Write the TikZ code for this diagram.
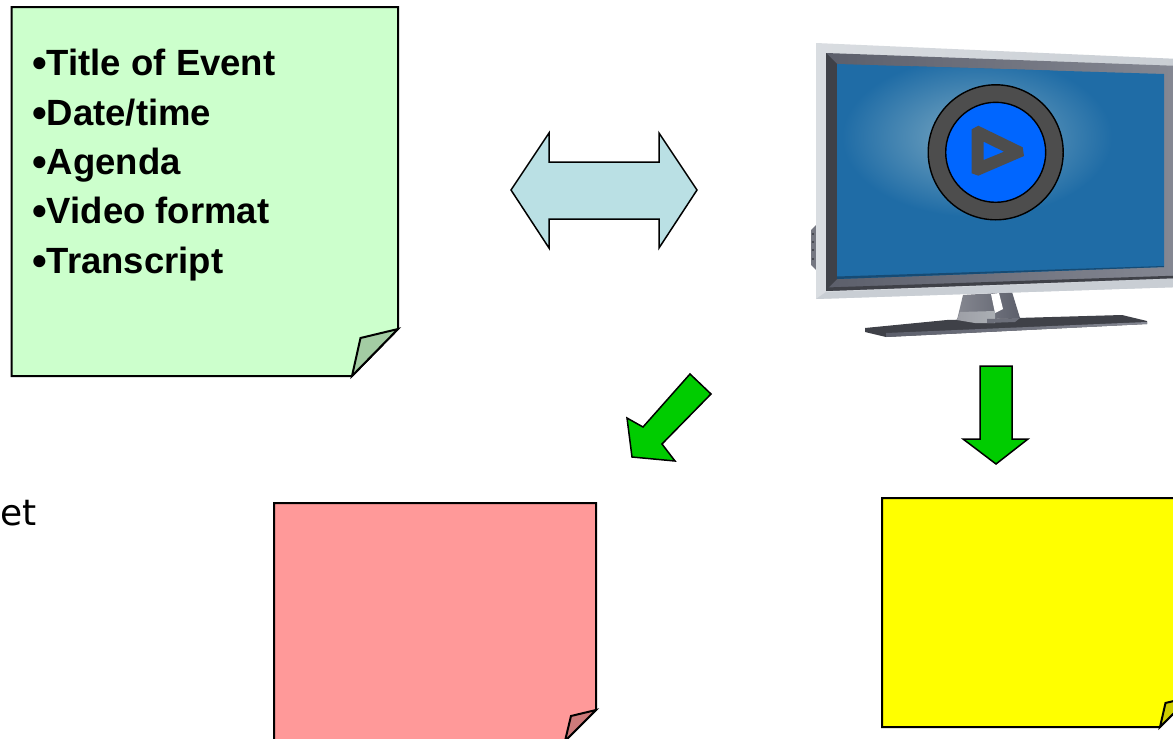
\documentclass[tikz,border=0pt]{standalone}
\usepackage{fontspec}
\setmainfont{Liberation Sans}
\newfontfamily\etfont{DejaVu Sans}
\newcommand{\bigbul}{\raisebox{-2pt}{\fontsize{42}{42}\selectfont •}}
\definecolor{notegreen}{HTML}{CCFFCC}
\definecolor{foldgreen}{HTML}{A3CCA3}
\definecolor{notered}{HTML}{FF9999}
\definecolor{foldred}{HTML}{CC7A7A}
\definecolor{noteyellow}{HTML}{FFFF00}
\definecolor{foldyellow}{HTML}{CCCC00}
\definecolor{arrowblue}{HTML}{BAE0E4}
\definecolor{arrowgreen}{HTML}{00CC00}
\definecolor{screenblue}{HTML}{1F6CA6}
\definecolor{glowblue}{HTML}{7CA9C2}
\definecolor{playblue}{HTML}{0066FF}
\definecolor{ringgray}{HTML}{4D4D4D}
\definecolor{bezellight}{HTML}{C9CED4}
\definecolor{bezeldark}{HTML}{5C5F6B}
\definecolor{framedark}{HTML}{3F4148}
\definecolor{framemid}{HTML}{858893}
\tikzset{
  outline/.style={draw=black,line width=2pt,line join=miter},
  blockarrow/.style={draw=black,line width=1.5pt,line join=miter},
  listtext/.style={font=\fontsize{36.5}{49.4}\selectfont\bfseries,align=left,anchor=north west,inner sep=0pt,text=black}
}
\begin{document}
\begin{tikzpicture}[x=1pt,y=-1pt]
\clip (0,0) rectangle (1173,739);
\fill[white] (0,0) rectangle (1173,739);
% green note
\draw[outline,fill=notegreen] (11.5,7) -- (398,7) -- (398,329) -- (352,376) -- (11.5,376) -- cycle;
\draw[outline,fill=foldgreen] (398,329) -- (360.5,338) -- (352,376) -- cycle;
\node[listtext] (list) at (32,49) {\bigbul Title of Event\\\bigbul Date/time\\\bigbul Agenda\\\bigbul Video format\\\bigbul Transcript};
% red note
\draw[outline,fill=notered] (274,503) -- (596,503) -- (596,710) -- (565,741) -- (274,741) -- cycle;
\draw[outline,fill=foldred] (596,710) -- (571,716) -- (565,741) -- cycle;
% yellow note
\draw[outline,fill=noteyellow] (882,498) -- (1190,498) -- (1190,697) -- (1160,727) -- (882,727) -- cycle;
\draw[outline,fill=foldyellow] (1190,697) -- (1165.5,703) -- (1160,727) -- cycle;
% arrows
\draw[blockarrow,fill=arrowblue] (511,190) -- (549,133) -- (549,162) -- (659,162) -- (659,133) -- (697,190) -- (659,248) -- (659,219) -- (549,219) -- (549,248) -- cycle;
\draw[blockarrow,fill=arrowgreen] (980,366) -- (1012,366) -- (1012,439) -- (1028,439) -- (996,464) -- (963,439) -- (980,439) -- cycle;
\draw[blockarrow,fill=arrowgreen] (690,374) -- (711,394) -- (662,444) -- (675,461) -- (632,457) -- (627,418) -- (643,427) -- cycle;
% stray text
\node[font=\etfont\fontsize{36}{38}\selectfont,anchor=base west,inner sep=0pt] (stray) at (0,525) {et};
% monitor: side buttons
\fill[bezeldark!85] (811,230) -- (816,225) -- (816,270) -- (811,265) -- cycle;
\foreach \by in {234,242,250,259} \fill[bezeldark!60!black] (813,\by) circle (1.2pt);
% stand base
\fill[framedark] (865,328) -- (947,320) -- (1122,315) -- (1147,321) -- (1147,324) -- (886,337) -- (865,332) -- cycle;
\shade[left color=bezeldark,right color=framemid] (886,333) -- (1147,322) -- (1147,324) -- (886,337) -- cycle;
% stand neck
\shade[left color=bezeldark!75,right color=bezeldark] (963,295) -- (1012,292) -- (1020,318) -- (957,320) -- cycle;
\fill[white] (991,294) -- (999,293) -- (1003,309) -- (995,313) -- cycle;
\shade[left color=bezeldark!60,right color=bezellight!85!black] (960,312) -- (995,311) -- (995,323) -- (975,323) -- (957,320) -- cycle;
\fill[bezeldark!90] (987,319) -- (1020,318) -- (1015,322) -- (987,323) -- cycle;
% bezel
\shade[left color=bezellight!70!white,right color=bezellight] (816,43) -- (1180,59) -- (1180,287) -- (816,299) -- cycle;
\fill[bezellight] (826,292) -- (1180,279) -- (1180,287) -- (816,299) -- cycle;
% inner dark frame
\shade[left color=bezeldark,right color=framemid] (826,53) -- (1180,66) -- (1180,278) -- (826,291) -- cycle;
\fill[framedark] (826,291) -- (1180,278) -- (1180,275.5) -- (826,287.5) -- cycle;
\fill[framedark] (826,53) -- (837,64) -- (837,279) -- (826,290) -- cycle;
% screen
\begin{scope}
\clip (837,64) -- (1164,74) -- (1164,267) -- (837,279) -- cycle;
\fill[screenblue] (830,60) rectangle (1170,285);
\shade[inner color=glowblue,outer color=screenblue,shading=radial] (977,137) ellipse [x radius=135,y radius=80];
\fill[screenblue!70!black] (837,276.5) -- (1164,266) -- (1164,270) -- (837,280) -- cycle;
\end{scope}
% play button
\node[circle,draw=black,line width=1.4pt,fill=ringgray,minimum size=135pt,inner sep=0pt] (ring) at (995.7,152.3) {};
\node[circle,draw=black,line width=1.4pt,fill=playblue,minimum size=100pt,inner sep=0pt] (disc) at (ring.center) {};
\fill[ringgray,even odd rule] (971.7,129.3) -- (978.3,125.7) -- (1022.7,147.3) -- (1024,156) -- (978.3,175.7) -- (971.7,173.3) -- cycle
  (983.7,141.7) -- (983.7,160) -- (1004,151.7) -- cycle;
\end{tikzpicture}
\end{document}
